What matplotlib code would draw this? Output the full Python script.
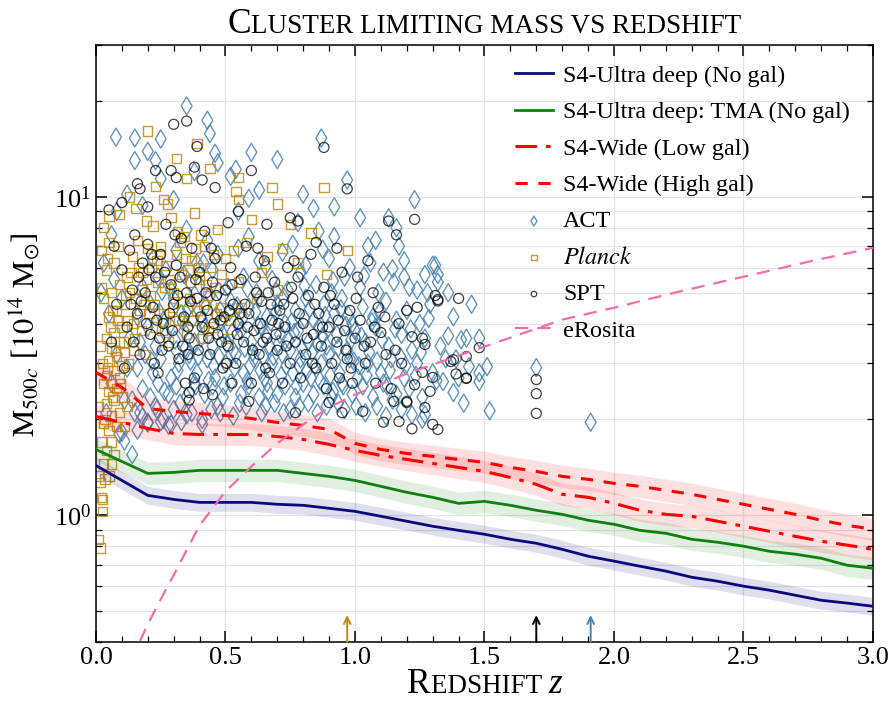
import numpy as np
import matplotlib
matplotlib.use("Agg")
import matplotlib.pyplot as plt
from matplotlib.offsetbox import TextArea, HPacker, AnchoredOffsetbox
from matplotlib.ticker import MultipleLocator, LogLocator, NullFormatter

plt.rcParams['font.family'] = 'Liberation Serif'
plt.rcParams['mathtext.fontset'] = 'stix'

# --- forecast curves (z, M500c in 1e14 Msun) ---
z_grid = np.round(np.arange(0, 3.01, 0.1), 2)
m_ultra = [1.434, 1.287, 1.155, 1.122, 1.098, 1.098, 1.098, 1.083, 1.075, 1.052,
           1.029, 0.993, 0.958, 0.924, 0.897, 0.872, 0.841, 0.817, 0.782, 0.744,
           0.718, 0.692, 0.668, 0.639, 0.621, 0.599, 0.582, 0.561, 0.541, 0.530, 0.518]
m_tma = [1.610, 1.476, 1.354, 1.364, 1.384, 1.384, 1.384, 1.384, 1.354, 1.325,
         1.287, 1.233, 1.181, 1.139, 1.090, 1.106, 1.075, 1.037, 1.007, 0.965,
         0.937, 0.897, 0.878, 0.841, 0.823, 0.800, 0.771, 0.755, 0.733, 0.697, 0.682]
m_low = [2.044, 1.957, 1.874, 1.807, 1.794, 1.794, 1.794, 1.768, 1.731, 1.670,
         1.599, 1.542, 1.498, 1.455, 1.414, 1.374, 1.315, 1.251, 1.164, 1.139,
         1.090, 1.037, 1.007, 0.993, 0.958, 0.924, 0.891, 0.859, 0.829, 0.806, 0.782]
m_high = [2.81, 2.52, 2.165, 2.118, 2.088, 2.059, 2.014, 1.957, 1.915, 1.861,
          1.682, 1.610, 1.564, 1.531, 1.498, 1.466, 1.414, 1.374, 1.325, 1.297,
          1.260, 1.233, 1.198, 1.164, 1.122, 1.083, 1.044, 1.007, 0.965, 0.930, 0.904]
band_dex = {'ultra': 0.028, 'tma': 0.035, 'low': 0.035, 'high': 0.035}

z_erosita = [0.17, 0.2, 0.25, 0.3, 0.4, 0.5, 0.6, 0.7, 0.8, 0.9, 1.0, 1.2, 1.4,
             1.6, 1.8, 2.0, 2.25, 2.5, 2.75, 3.0]
m_erosita = [0.403, 0.455, 0.545, 0.649, 0.930, 1.189, 1.424, 1.682, 1.929, 2.181,
             2.395, 2.787, 3.174, 3.614, 4.116, 4.487, 5.038, 5.613, 6.255, 6.92]

# maximum redshift markers
zmax_planck, zmax_spt, zmax_act = 0.97, 1.70, 1.91

# --- cluster catalogues (z, M) ---
act = np.array([
    (0.04, 2.1), (0.06, 2.6), (0.08, 3.2), (0.05, 4.3), (0.07, 5.5), (0.03, 6.2), (0.09, 1.8),
    (0.11, 2.3), (0.12, 2.9), (0.14, 1.55), (0.13, 3.6), (0.10, 4.8), (0.06, 7.6), (0.02, 5.0),
    (0.08, 9.0), (0.15, 2.1),
    (0.077, 15.4), (0.15, 15.3), (0.15, 13.0), (0.20, 13.9), (0.25, 15.2), (0.23, 13.0),
    (0.35, 19.3), (0.43, 17.4), (0.44, 15.8), (0.46, 13.7), (0.47, 12.8), (0.54, 12.2),
    (0.60, 13.8), (0.70, 13.1), (0.87, 15.3), (0.97, 11.3), (1.23, 9.8), (0.25, 11.4),
    (0.38, 12.0), (0.52, 11.6), (0.63, 10.5), (0.80, 10.2), (0.59, 9.9), (0.92, 9.3),
    (0.84, 9.2), (1.02, 8.6), (1.13, 8.6), (1.16, 8.0), (0.78, 8.3), (0.92, 7.5), (1.05, 7.0),
    (1.08, 7.3), (1.17, 7.0), (0.12, 10.2), (0.18, 9.4), (0.30, 9.8), (0.55, 9.0),
    (1.11, 5.8), (1.19, 6.3), (1.31, 6.1), (1.32, 5.4), (1.24, 5.1),
    (0.22, 6.4), (0.31, 6.8), (0.39, 6.2), (0.47, 6.6), (0.55, 6.9), (0.63, 6.3), (0.72, 6.7),
    (0.81, 6.1), (0.90, 6.4), (0.98, 6.0), (1.06, 6.2), (0.27, 5.9), (0.43, 7.3), (0.59, 7.5),
    (0.76, 7.1), (0.86, 7.8), (0.35, 7.9),
    (0.18, 5.2), (0.24, 5.6), (0.29, 5.1), (0.34, 5.7), (0.40, 5.3), (0.45, 5.9), (0.51, 5.2),
    (0.57, 5.6), (0.62, 5.0), (0.68, 5.5), (0.74, 5.1), (0.79, 5.8), (0.85, 5.3), (0.91, 5.0),
    (0.96, 5.6), (1.02, 5.2), (1.09, 5.0), (1.15, 5.4), (1.21, 5.2), (1.27, 5.7),
    (0.16, 4.2), (0.21, 4.6), (0.26, 4.1), (0.30, 4.8), (0.33, 4.3), (0.37, 4.6), (0.41, 4.1),
    (0.44, 4.9), (0.48, 4.4), (0.52, 4.7), (0.55, 4.0), (0.59, 4.5), (0.63, 4.8), (0.66, 4.2),
    (0.70, 4.6), (0.73, 4.0), (0.77, 4.4), (0.81, 4.8), (0.84, 4.1), (0.88, 4.6), (0.92, 4.3),
    (0.95, 4.8), (0.99, 4.0), (1.03, 4.5), (1.07, 4.2), (1.12, 4.7), (1.16, 4.1), (1.20, 4.4),
    (1.25, 4.0), (1.29, 4.6),
    (0.17, 3.5), (0.20, 3.9), (0.23, 3.4), (0.27, 3.7), (0.31, 3.3), (0.34, 3.8), (0.38, 3.5),
    (0.42, 3.9), (0.45, 3.4), (0.49, 3.7), (0.53, 3.3), (0.56, 3.8), (0.60, 3.5), (0.64, 3.9),
    (0.67, 3.4), (0.71, 3.7), (0.75, 3.3), (0.78, 3.8), (0.82, 3.5), (0.86, 3.9), (0.89, 3.4),
    (0.93, 3.7), (0.97, 3.3), (1.00, 3.8), (1.04, 3.5), (1.08, 3.9), (1.13, 3.4), (1.18, 3.7),
    (1.22, 3.3), (1.27, 3.6), (1.33, 3.4),
    (0.16, 2.9), (0.19, 3.2), (0.22, 2.8), (0.25, 3.1), (0.29, 2.7), (0.32, 3.0), (0.36, 3.2),
    (0.39, 2.8), (0.43, 3.1), (0.46, 2.7), (0.50, 3.0), (0.54, 3.2), (0.57, 2.8), (0.61, 3.1),
    (0.65, 2.7), (0.68, 3.0), (0.72, 3.2), (0.76, 2.8), (0.79, 3.1), (0.83, 2.7), (0.87, 3.0),
    (0.90, 3.2), (0.94, 2.8), (0.98, 3.1), (1.01, 2.7), (1.05, 3.0), (1.10, 2.8), (1.14, 3.1),
    (1.19, 2.7), (1.24, 3.0), (1.30, 2.8), (1.35, 3.1),
    (0.18, 2.5), (0.21, 2.35), (0.24, 2.6), (0.28, 2.4), (0.31, 2.55), (0.35, 2.35), (0.38, 2.6),
    (0.42, 2.4), (0.45, 2.55), (0.49, 2.35), (0.52, 2.6), (0.56, 2.4), (0.59, 2.55), (0.63, 2.35),
    (0.66, 2.6), (0.70, 2.4), (0.73, 2.55), (0.77, 2.35), (0.80, 2.6), (0.84, 2.4), (0.88, 2.55),
    (0.91, 2.35), (0.95, 2.6), (0.99, 2.4), (1.03, 2.55), (1.07, 2.35), (1.11, 2.6), (1.16, 2.4),
    (1.21, 2.5), (1.26, 2.35),
    (0.17, 2.1), (0.20, 1.95), (0.23, 2.2), (0.26, 2.0), (0.30, 2.15), (0.33, 1.97), (0.37, 2.1),
    (0.41, 2.0), (0.47, 2.2), (0.53, 2.05), (0.58, 2.2), (0.64, 2.1), (0.69, 2.25), (0.75, 2.15),
    (0.82, 2.25), (0.89, 2.2), (0.96, 2.15), (1.04, 2.1), (1.12, 2.05), (1.18, 2.15), (1.26, 2.0),
    (0.14, 2.3), (0.28, 1.92), (0.16, 1.85),
    (0.335, 4.05), (0.365, 3.05), (0.405, 3.6), (0.435, 2.65), (0.465, 4.25), (0.505, 3.45),
    (0.535, 2.9), (0.565, 4.15), (0.605, 3.25), (0.635, 2.85), (0.655, 3.65), (0.695, 4.35),
    (0.715, 2.75), (0.745, 3.55), (0.785, 2.95), (0.805, 4.15), (0.835, 3.25), (0.865, 2.65),
    (0.895, 3.85), (0.925, 3.05), (0.945, 4.45), (0.985, 3.55), (1.015, 2.95), (0.305, 3.55),
    (0.355, 4.45), (0.385, 2.55), (0.475, 3.15), (0.515, 4.35), (0.585, 2.65), (0.625, 3.95),
    (0.685, 3.15), (0.755, 4.05), (0.815, 2.85), (0.855, 3.45), (0.915, 2.45), (0.965, 3.95),
    (1.055, 3.25), (1.095, 4.35), (1.135, 2.85), (1.175, 3.15),
    (0.215, 3.05), (0.245, 4.35), (0.265, 2.45), (0.285, 3.95), (0.315, 2.85), (0.345, 3.35),
    (0.375, 4.15), (0.395, 3.15), (0.425, 4.55), (0.455, 2.95), (0.485, 4.05), (0.495, 2.55),
    (0.525, 3.75), (0.545, 4.55), (0.575, 3.35), (0.595, 2.95), (0.615, 4.35), (0.645, 3.15),
    (0.665, 2.45), (0.675, 4.05), (0.705, 3.45), (0.725, 4.85), (0.735, 2.95), (0.765, 3.75),
    (0.775, 2.55), (0.795, 3.35), (0.825, 4.45), (0.845, 2.95), (0.875, 3.65), (0.885, 4.25),
    (0.905, 2.75), (0.935, 3.35), (0.955, 2.55), (0.975, 4.25), (0.995, 3.05), (1.025, 3.65),
    (1.045, 2.75), (1.065, 4.05), (1.085, 3.05), (1.105, 3.55), (1.125, 2.55), (1.155, 3.85),
    (1.195, 2.95), (1.215, 3.85), (1.235, 2.75), (1.255, 3.25), (1.285, 4.15), (1.315, 2.65),
    (0.235, 2.15), (0.325, 2.25), (0.445, 2.15), (0.555, 2.25), (0.655, 2.2), (0.725, 2.1),
    (0.785, 2.2), (0.855, 2.1), (0.935, 2.25), (1.005, 2.2), (1.085, 2.2), (1.145, 2.3),
    (0.255, 5.05), (0.365, 5.35), (0.475, 5.05), (0.585, 5.15), (0.695, 5.05), (0.805, 5.25),
    (0.915, 5.45), (1.035, 5.65), (1.145, 5.95), (0.415, 6.2), (0.655, 6.05), (0.875, 6.85),
    (1.22, 2.07), (1.27, 2.07), (1.30, 6.1), (1.32, 5.7), (1.28, 5.0), (1.19, 5.6), (1.38, 4.2),
    (1.36, 3.66), (1.41, 3.56), (1.43, 3.6), (1.48, 3.6), (1.51, 2.93), (1.48, 2.8), (1.48, 2.63),
    (1.38, 2.43), (1.34, 2.63), (1.52, 2.13), (1.70, 2.91), (1.91, 1.96), (1.44, 2.93),
    (1.39, 3.1), (1.45, 4.6), (1.42, 2.25), (1.36, 5.0), (1.40, 2.7),
    (0.20, 1.96), (0.25, 1.97), (0.29, 1.93), (0.35, 2.07), (0.41, 1.93), (0.48, 2.1),
    (0.18, 2.04), (0.11, 1.71), (0.10, 1.82),
])

planck = np.array([
    (0.01, 0.84), (0.015, 0.79), (0.02, 1.14), (0.025, 1.12), (0.025, 1.03), (0.01, 1.33),
    (0.015, 1.27), (0.05, 1.33), (0.03, 1.45), (0.04, 1.6), (0.06, 1.7), (0.07, 1.55),
    (0.05, 1.85), (0.08, 1.9), (0.03, 1.95), (0.06, 2.05), (0.09, 2.1), (0.04, 2.25), (0.07, 2.3),
    (0.10, 2.35), (0.05, 2.45), (0.08, 2.5), (0.06, 2.6), (0.09, 2.7), (0.04, 2.75), (0.07, 2.85),
    (0.10, 2.95), (0.05, 3.05), (0.08, 3.15), (0.11, 3.25), (0.06, 3.35), (0.09, 3.5), (0.04, 3.6),
    (0.07, 3.75), (0.10, 3.9), (0.12, 4.1), (0.05, 4.2), (0.08, 4.4), (0.11, 4.6), (0.03, 4.8),
    (0.06, 5.0), (0.09, 5.3), (0.12, 5.6), (0.04, 5.9), (0.07, 6.2), (0.02, 6.8), (0.05, 7.2),
    (0.03, 8.0), (0.05, 8.7), (0.09, 8.8), (0.02, 5.2), (0.015, 3.4), (0.01, 2.2), (0.02, 1.7),
    (0.06, 1.45), (0.03, 2.6), (0.12, 2.2), (0.11, 1.9),
    (0.035, 2.0), (0.045, 2.9), (0.055, 3.9), (0.065, 2.35), (0.075, 3.3), (0.085, 4.1),
    (0.095, 2.6), (0.105, 3.5), (0.115, 4.9), (0.125, 3.0), (0.045, 6.4), (0.085, 7.0),
    (0.065, 4.4), (0.025, 3.0), (0.035, 1.3),
    (0.13, 5.0), (0.14, 6.5), (0.15, 3.6), (0.16, 7.3), (0.17, 4.4), (0.18, 5.8), (0.19, 3.2),
    (0.20, 6.9), (0.21, 4.9), (0.22, 8.1), (0.23, 3.9), (0.24, 5.4), (0.25, 7.0), (0.26, 4.3),
    (0.27, 6.1), (0.28, 3.5), (0.29, 8.6), (0.30, 5.0), (0.31, 6.6), (0.32, 4.1), (0.33, 5.7),
    (0.34, 7.5), (0.35, 3.7), (0.36, 4.8), (0.37, 6.3), (0.38, 8.9), (0.39, 4.4), (0.40, 5.5),
    (0.41, 3.6), (0.42, 7.0), (0.43, 4.9), (0.44, 6.0), (0.45, 3.9), (0.46, 5.2), (0.47, 7.9),
    (0.48, 4.5), (0.50, 6.4), (0.52, 4.1), (0.55, 5.4), (0.58, 7.2), (0.62, 4.8), (0.66, 6.5),
    (0.70, 5.1), (0.75, 8.2), (0.145, 4.0), (0.175, 5.1), (0.205, 4.3), (0.235, 6.3),
    (0.265, 5.2), (0.295, 4.5), (0.325, 7.2), (0.355, 5.9), (0.385, 6.9), (0.415, 4.6),
    (0.195, 8.4), (0.155, 9.2), (0.275, 9.5),
    (0.135, 5.8), (0.145, 3.3), (0.155, 4.8), (0.165, 6.0), (0.175, 3.8), (0.185, 4.6),
    (0.195, 5.5), (0.215, 6.0), (0.225, 4.6), (0.245, 6.6), (0.255, 3.8), (0.285, 5.5),
    (0.305, 4.1), (0.315, 7.8), (0.335, 4.7), (0.345, 6.4), (0.365, 5.4), (0.375, 4.1),
    (0.395, 6.0), (0.405, 7.6), (0.425, 5.3), (0.435, 3.8), (0.455, 6.6), (0.465, 4.3),
    (0.485, 5.7), (0.51, 3.6), (0.53, 6.8), (0.56, 4.5), (0.64, 5.8), (0.72, 6.9),
    (0.20, 16.1), (0.31, 13.2), (0.39, 14.7), (0.44, 12.3), (0.35, 11.4), (0.23, 10.8),
    (0.55, 11.5), (0.68, 10.7), (0.88, 10.7), (0.54, 10.4), (0.55, 9.8), (0.70, 9.5),
    (0.97, 6.8), (0.83, 7.7), (0.89, 5.7), (0.26, 9.8), (0.13, 10.0), (0.60, 8.5), (0.78, 6.2),
])

spt = np.array([
    (0.30, 16.9), (0.35, 17.3), (0.39, 14.4), (0.38, 12.4), (0.60, 12.1), (0.88, 14.3),
    (0.97, 10.6), (0.16, 11.0), (0.17, 10.6), (0.10, 9.6), (0.23, 12.1), (0.29, 12.1),
    (0.31, 11.5), (0.41, 11.3), (0.46, 10.7), (0.75, 8.6), (0.78, 8.4), (1.13, 8.4), (1.23, 8.5),
    (1.16, 7.6), (1.05, 6.3), (1.01, 5.6), (1.07, 5.0), (1.40, 4.8), (1.31, 4.9), (1.32, 4.76),
    (1.24, 4.5), (1.20, 4.4), (1.17, 4.0), (1.10, 3.75), (1.22, 3.64), (1.27, 3.44), (1.38, 3.08),
    (1.43, 2.7), (1.48, 3.36), (1.15, 2.28), (1.20, 2.26), (1.27, 2.18), (1.11, 1.96),
    (1.17, 1.97), (1.22, 1.87), (1.30, 1.93), (1.32, 1.86), (1.03, 2.12), (0.95, 2.10),
    (0.77, 2.1), (0.90, 2.26), (0.59, 2.28), (0.36, 2.43), (0.36, 2.3), (0.45, 2.39),
    (1.70, 2.67), (1.70, 2.41), (1.70, 2.09), (1.26, 3.6), (1.37, 3.04), (1.43, 3.15),
    (1.30, 2.71), (1.43, 2.69), (1.39, 2.78), (1.26, 2.81), (1.23, 2.57), (1.29, 2.45),
    (1.20, 2.28), (1.32, 4.71), (0.05, 9.1), (0.07, 7.0), (0.20, 9.3), (0.55, 9.0), (0.66, 8.2),
    (0.85, 7.2), (0.93, 6.9), (0.51, 8.3),
    (0.06, 3.5), (0.08, 4.6), (0.10, 5.9), (0.12, 3.9), (0.13, 6.8), (0.11, 2.9), (0.14, 5.1),
    (0.15, 7.6), (0.16, 4.3), (0.17, 3.2), (0.18, 6.2), (0.19, 5.0), (0.20, 7.1), (0.21, 3.7),
    (0.22, 4.5), (0.23, 5.6), (0.24, 2.8), (0.25, 6.6), (0.26, 4.0), (0.27, 8.2), (0.28, 3.4),
    (0.29, 5.3), (0.30, 4.6), (0.31, 6.1), (0.32, 3.1), (0.33, 7.4), (0.34, 4.2), (0.35, 5.0),
    (0.36, 3.6), (0.37, 6.9), (0.38, 2.7), (0.39, 4.8), (0.40, 5.8), (0.41, 3.9), (0.42, 7.8),
    (0.43, 4.4), (0.44, 3.2), (0.45, 5.4), (0.46, 6.4), (0.47, 3.7), (0.48, 4.1), (0.49, 2.9),
    (0.50, 5.1), (0.51, 3.4), (0.52, 6.0), (0.53, 4.6), (0.54, 3.0), (0.55, 4.0), (0.56, 5.5),
    (0.57, 3.5), (0.58, 7.0), (0.59, 4.3), (0.60, 2.6), (0.61, 3.8), (0.62, 5.0), (0.63, 3.2),
    (0.64, 4.7), (0.65, 6.3), (0.66, 3.6), (0.67, 2.8), (0.68, 4.1), (0.69, 5.4), (0.70, 3.3),
    (0.71, 4.4), (0.72, 2.6), (0.73, 3.9), (0.74, 6.0), (0.75, 3.0), (0.76, 4.8), (0.77, 3.5),
    (0.78, 5.6), (0.79, 2.7), (0.80, 4.0), (0.81, 3.2), (0.82, 4.9), (0.83, 6.6), (0.84, 3.7),
    (0.85, 2.9), (0.86, 4.3), (0.87, 3.4), (0.88, 5.2), (0.89, 2.5), (0.90, 3.9), (0.91, 3.0),
    (0.92, 4.6), (0.93, 3.5), (0.94, 2.7), (0.95, 5.8), (0.96, 3.8), (0.97, 3.1), (0.98, 4.4),
    (0.99, 2.6), (1.00, 3.6), (1.02, 4.1), (1.04, 3.0), (1.06, 3.5), (1.08, 2.6), (1.09, 4.5),
    (1.12, 3.2), (1.14, 2.5), (1.18, 3.0), (0.255, 3.3), (0.285, 4.3), (0.325, 5.6),
    (0.355, 3.9), (0.395, 3.3), (0.425, 5.0), (0.455, 4.0), (0.485, 3.5), (0.515, 4.4),
    (0.545, 3.7), (0.575, 4.6), (0.605, 3.3), (0.635, 4.0), (0.665, 5.0), (0.695, 3.7),
    (0.725, 4.6), (0.225, 3.0), (0.195, 4.0), (0.165, 5.6), (0.135, 4.6), (0.345, 2.6),
    (0.415, 2.5), (0.525, 2.6),
    (0.145, 3.5), (0.175, 4.7), (0.205, 5.9), (0.235, 4.1), (0.265, 5.8), (0.295, 3.8),
    (0.315, 4.9), (0.335, 3.4), (0.365, 4.7), (0.385, 5.5), (0.405, 4.2), (0.435, 3.6),
    (0.465, 4.9), (0.495, 4.2), (0.525, 5.3), (0.555, 4.3), (0.585, 3.9), (0.615, 5.6),
    (0.645, 3.5), (0.675, 4.6), (0.705, 4.0), (0.735, 3.4), (0.755, 5.2), (0.785, 4.3),
    (0.815, 3.6), (0.845, 4.6), (0.875, 3.9), (0.905, 4.9), (0.935, 4.1), (0.965, 3.3),
    (1.005, 4.8), (1.035, 3.4), (1.075, 3.9), (1.115, 4.2), (1.155, 3.3), (0.215, 6.6),
    (0.305, 7.6), (0.445, 6.9), (0.625, 6.9), (0.765, 6.3), (0.245, 3.6), (0.355, 3.2),
    (0.505, 3.0), (0.655, 2.9), (0.835, 3.0), (0.985, 2.9),
])

c_act = '#4682b4'
c_planck = '#c08a10'
c_spt = 'black'
c_ultra = '#0a0a80'
c_tma = '#108010'
c_red = '#ff0000'
c_eros = '#f06ea9'

fig = plt.figure(figsize=(8.92, 7.07), dpi=100)
ax = fig.add_axes([0.1076, 0.0919, 0.8711, 0.8445])

ax.scatter(act[:, 0], act[:, 1], marker='d', s=85, facecolors='none', edgecolors=c_act,
           linewidths=1.0, alpha=0.85, zorder=2, label='ACT')
ax.scatter(planck[:, 0], planck[:, 1], marker='s', s=45, facecolors='none', edgecolors=c_planck,
           linewidths=1.0, alpha=0.85, zorder=2.1, label='$\\mathit{Planck}$')
ax.scatter(spt[:, 0], spt[:, 1], marker='o', s=52, facecolors='none', edgecolors=c_spt,
           linewidths=0.9, alpha=0.75, zorder=2.2, label='SPT')

ax.fill_between(z_grid, np.array(m_ultra) * 10**-band_dex['ultra'], np.array(m_ultra) * 10**band_dex['ultra'],
                color=c_ultra, alpha=0.13, lw=0, zorder=3)
ax.fill_between(z_grid, np.array(m_tma) * 10**-band_dex['tma'], np.array(m_tma) * 10**band_dex['tma'],
                color=c_tma, alpha=0.12, lw=0, zorder=3)
ax.fill_between(z_grid, np.array(m_low) * 10**-band_dex['low'], np.array(m_low) * 10**band_dex['low'],
                color=c_red, alpha=0.12, lw=0, zorder=3)
ax.fill_between(z_grid, np.array(m_high) * 10**-band_dex['high'], np.array(m_high) * 10**band_dex['high'],
                color=c_red, alpha=0.12, lw=0, zorder=3)

ax.plot(z_grid, m_ultra, color=c_ultra, lw=2.0, zorder=4, label='S4-Ultra deep (No gal)')
ax.plot(z_grid, m_tma, color=c_tma, lw=2.0, zorder=4, label='S4-Ultra deep: TMA (No gal)')
ax.plot(z_grid, m_low, color=c_red, lw=2.2, dashes=(7, 3, 1.5, 3), zorder=4, label='S4-Wide (Low gal)')
ax.plot(z_grid, m_high, color=c_red, lw=2.2, dashes=(4, 3.5), zorder=4, label='S4-Wide (High gal)')
ax.plot(z_erosita, m_erosita, color=c_eros, lw=1.6, dashes=(6, 4), zorder=4, label='eRosita')

for zm, col in [(zmax_planck, c_planck), (zmax_spt, 'black'), (zmax_act, c_act)]:
    ax.annotate('', xy=(zm, 0.045), xytext=(zm, 0.0), xycoords=('data', 'axes fraction'),
                arrowprops=dict(arrowstyle='->', color=col, lw=1.4, shrinkA=0, shrinkB=0,
                                mutation_scale=12), zorder=5)

ax.set_yscale('log')
ax.set_xlim(0, 3.0)
ax.set_ylim(0.4, 30)
ax.xaxis.set_major_locator(MultipleLocator(0.5))
ax.xaxis.set_minor_locator(MultipleLocator(0.1))
ax.yaxis.set_major_locator(LogLocator(base=10, numticks=10))
ax.yaxis.set_minor_locator(LogLocator(base=10, subs=np.arange(2, 10), numticks=20))
ax.yaxis.set_minor_formatter(NullFormatter())
ax.tick_params(which='both', direction='in', top=True, right=True, labelsize=19)
ax.tick_params(which='major', length=8, width=1.1)
ax.tick_params(which='minor', length=4, width=0.9)
for sp in ax.spines.values():
    sp.set_linewidth(1.1)
ax.grid(which='major', axis='x', color='#e3e3e3', lw=0.9, zorder=0)
ax.grid(which='both', axis='y', color='#e3e3e3', lw=0.9, zorder=0)
ax.set_axisbelow(True)

ax.set_ylabel('$\\mathrm{M}_{500c}$ [$10^{14}$ $\\mathrm{M}_{\\odot}$]', fontsize=22)
ax.yaxis.set_label_coords(-0.07, 0.515)


def caps_label(parts, anchor, loc):
    boxes = [TextArea(t, textprops=dict(size=s, style=st)) for t, s, st in parts]
    pack = HPacker(children=boxes, align='baseline', pad=0, sep=0)
    ab = AnchoredOffsetbox(loc=loc, child=pack, pad=0, borderpad=0, frameon=False,
                           bbox_to_anchor=anchor, bbox_transform=ax.transAxes)
    ax.add_artist(ab)


caps_label([('C', 25.5, 'normal'), ('LUSTER LIMITING MASS VS REDSHIFT', 19.5, 'normal')],
           (0.5, 1.007), 'lower center')
caps_label([('R', 25.5, 'normal'), ('EDSHIFT ', 19.5, 'normal'), ('z', 25.5, 'italic')],
           (0.5, -0.044), 'upper center')

handles, labels = ax.get_legend_handles_labels()
order = [3, 4, 5, 6, 0, 1, 2, 7]
leg = ax.legend([handles[i] for i in order], [labels[i] for i in order], loc='upper left',
                bbox_to_anchor=(0.517, 0.995), frameon=False, fontsize=17.4, handlelength=1.6,
                labelspacing=0.6, handletextpad=0.4, markerscale=0.55, borderaxespad=0.3)

fig.savefig('out.png', dpi=100)
